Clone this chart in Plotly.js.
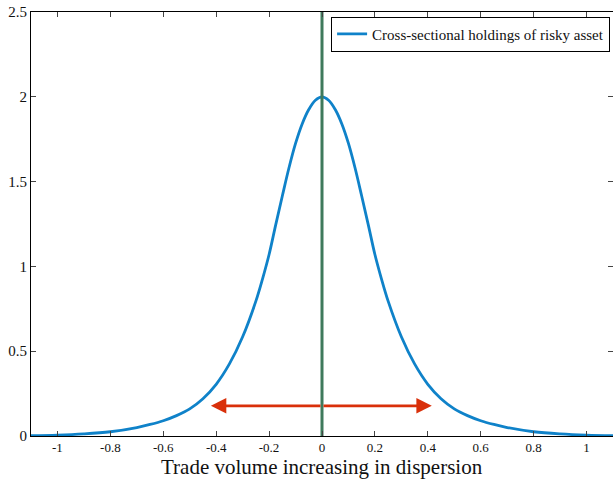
<!DOCTYPE html>
<html>
<head>
<meta charset="utf-8">
<script src="https://cdn.plot.ly/plotly-3.0.1.min.js"></script>
<style>html,body{margin:0;padding:0;background:#fff;}#chart{width:613px;height:480px;}</style>
</head>
<body>
<div id="chart"></div>
<script>
// Curve (right half, mirrored for the left half)
var xHalf = [0, 0.025, 0.05, 0.075, 0.1, 0.125, 0.15, 0.175, 0.2, 0.225, 0.25, 0.3, 0.35, 0.4, 0.45, 0.5, 0.55, 0.6, 0.65, 0.7, 0.8, 0.9, 1.0, 1.1];
var yHalf = [2.0, 1.98, 1.925, 1.84, 1.725, 1.58, 1.415, 1.245, 1.07, 0.925, 0.795, 0.585, 0.425, 0.305, 0.22, 0.16, 0.12, 0.09, 0.068, 0.05, 0.025, 0.012, 0.005, 0.002];
var seriesName = "Cross-sectional holdings of risky asset";
var vlineX = [0, 0];
var vlineY = [0, 2.5];
var arrowY = 0.178;
var arrowTips = [-0.42, 0.415];
var xTickVals = [-1, -0.8, -0.6, -0.4, -0.2, 0, 0.2, 0.4, 0.6, 0.8, 1];
var xTickText = ["-1", "-0.8", "-0.6", "-0.4", "-0.2", "0", "0.2", "0.4", "0.6", "0.8", "1"];
var yTickVals = [0, 0.5, 1, 1.5, 2, 2.5];
var yTickText = ["0", "0.5", "1", "1.5", "2", "2.5"];
var xTitle = "Trade volume increasing in dispersion";

var xVals = xHalf.slice(1).reverse().map(function(v){return -v;}).concat(xHalf);
var yVals = yHalf.slice(1).reverse().concat(yHalf);

var font = "Liberation Serif, Times New Roman, serif";

var traces = [
  {x: xVals, y: yVals, type: "scatter", mode: "lines", name: seriesName,
   line: {color: "#0f82c9", width: 2.8, shape: "spline", smoothing: 1}},
  {x: vlineX, y: vlineY, type: "scatter", mode: "lines", showlegend: false,
   line: {color: "#3f7a5c", width: 3}, hoverinfo: "skip"}
];

var annotations = arrowTips.map(function(t) {
  return {x: t, y: arrowY, ax: 0, ay: arrowY, xref: "x", yref: "y", axref: "x", ayref: "y",
          text: "", showarrow: true, arrowhead: 2, arrowsize: 1.1, arrowwidth: 2.8, arrowcolor: "#d9300a",
          standoff: 0, startstandoff: 0};
});
annotations.push({text: xTitle, xref: "paper", yref: "paper", x: 0.5, y: -0.1035, xanchor: "center", yanchor: "bottom",
                  showarrow: false, borderpad: 0, font: {family: font, size: 21, color: "#111"}});

var layout = {
  width: 613, height: 480,
  margin: {l: 31, r: 0, t: 12, b: 44},
  paper_bgcolor: "#fff", plot_bgcolor: "#fff",
  showlegend: true,
  legend: {x: 0.995, y: 0.989, xanchor: "right", yanchor: "top",
           bordercolor: "#000", borderwidth: 1, bgcolor: "#fff",
           font: {family: font, size: 15, color: "#111"}, tracegroupgap: 0},
  xaxis: {range: [-1.1, 1.1], tickvals: xTickVals, ticktext: xTickText,
          ticks: "inside", ticklen: 5, tickcolor: "#444", showgrid: false, zeroline: false,
          showline: true, linecolor: "#000", linewidth: 1, mirror: "ticks",
          tickfont: {family: font, size: 13, color: "#111"}, ticklabelstandoff: -1},
  yaxis: {range: [0, 2.5], tickvals: yTickVals, ticktext: yTickText,
          ticks: "inside", ticklen: 5, tickcolor: "#444", showgrid: false, zeroline: false,
          showline: true, linecolor: "#000", linewidth: 1, mirror: "ticks",
          tickfont: {family: font, size: 15, color: "#111"}},
  annotations: annotations
};

Plotly.newPlot("chart", traces, layout, {displayModeBar: false, staticPlot: true});
</script>
</body>
</html>
